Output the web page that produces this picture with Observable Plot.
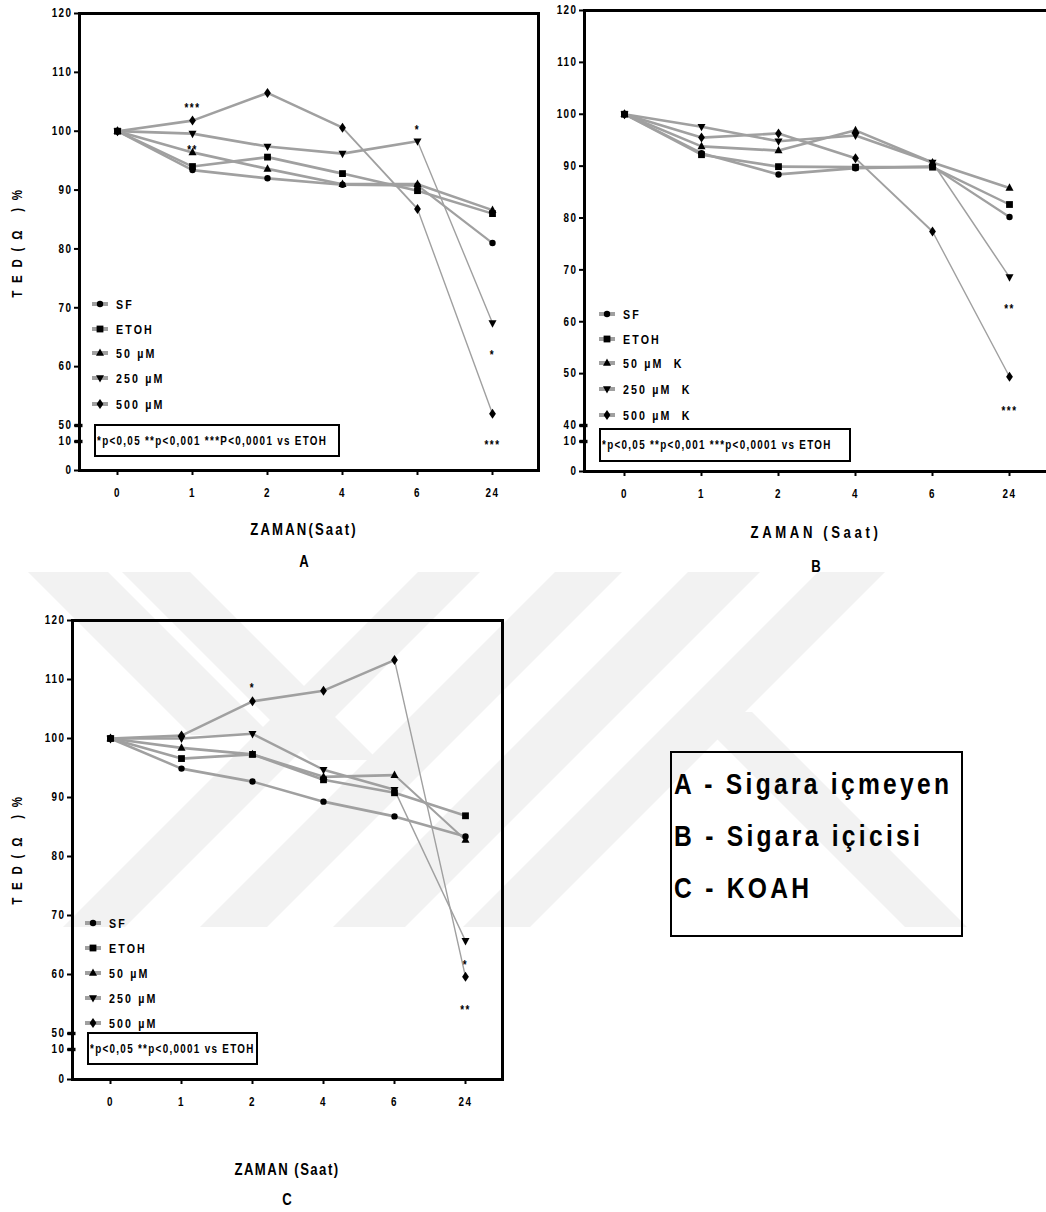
<!DOCTYPE html>
<html><head><meta charset="utf-8">
<script src="https://cdn.jsdelivr.net/npm/d3@7"></script>
<script src="https://cdn.jsdelivr.net/npm/@observablehq/plot@0.6"></script>
<style>
html,body{margin:0;padding:0;background:#fff;overflow:hidden;}
#root{position:relative;width:1046px;height:1212px;overflow:hidden;
  font-family:"Liberation Sans",Arial,sans-serif;font-weight:bold;color:#000;}
.abs{position:absolute;white-space:nowrap;}
.nar{display:inline-block;transform:scaleX(0.82);transform-origin:left center;}
.panel svg{overflow:visible;}
.panel g[aria-label^="y-axis"] line,.panel g[aria-label^="y-axis"] path,
.panel g[aria-label^="x-axis"] line,.panel g[aria-label^="x-axis"] path{stroke-width:2px;}
.statbox{border:2.5px solid #000;box-sizing:border-box;font-size:12px;letter-spacing:1.6px;display:flex;align-items:center;padding-left:1px;}
.legrow{display:flex;align-items:center;font-size:13px;}
.legrow span{letter-spacing:2.6px;}
.title{font-size:16px;transform:translate(-50%,-50%) scaleX(0.82);}
.ytitle{font-size:14px;letter-spacing:9.5px;transform:translate(-50%,-50%) rotate(-90deg) scaleX(0.82);}
#keybox{border:2.5px solid #000;box-sizing:border-box;font-size:30px;letter-spacing:4px;}
#wm{position:absolute;left:0;top:0;}
</style></head><body><div id="root"></div>
<script>
// ---------- data ----------
const times = ["0", "1", "2", "4", "6", "24"];
const namesAC = ["SF", "ETOH", "50 µM", "250 µM", "500 µM"];
const namesB = ["SF", "ETOH", "50 µM  K", "250 µM  K", "500 µM  K"];

const A_SF   = [100, 93.4, 92.0, 90.9, 90.8, 81.0];
const A_ETOH = [100, 94.0, 95.6, 92.8, 89.9, 86.0];
const A_50   = [100, 96.4, 93.6, 91.0, 91.0, 86.6];
const A_250  = [100, 99.6, 97.4, 96.2, 98.3, 67.4];
const A_500  = [100, 101.8, 106.5, 100.6, 86.8, 52.0];

const B_SF   = [100, 92.5, 88.4, 89.6, 89.9, 80.2];
const B_ETOH = [100, 92.2, 89.9, 89.8, 89.8, 82.6];
const B_50   = [100, 93.8, 93.0, 96.9, 90.7, 85.8];
const B_250  = [100, 97.6, 94.8, 95.9, 90.7, 68.6];
const B_500  = [100, 95.5, 96.3, 91.5, 77.4, 49.4];

const C_SF   = [100, 94.9, 92.7, 89.3, 86.8, 83.4];
const C_ETOH = [100, 96.6, 97.3, 93.0, 90.8, 86.9];
const C_50   = [100, 98.4, 97.3, 93.5, 93.8, 82.8];
const C_250  = [100, 100.0, 100.8, 94.7, 91.3, 65.7];
const C_500  = [100, 100.5, 106.3, 108.1, 113.3, 59.6];

// significance marks: time, value, label
const A_notes_x = ["1", "1", "6", "24", "24"];
const A_notes_y = [104.0, 96.8, 100.2, 62.0, 8.6];
const A_notes_t = ["***", "**", "*", "*", "***"];
const B_notes_x = ["24", "24"];
const B_notes_y = [62.4, 42.8];
const B_notes_t = ["**", "***"];
const C_notes_x = ["2", "24", "24"];
const C_notes_y = [108.6, 61.5, 54.0];
const C_notes_t = ["*", "*", "**"];

const yTicksA = [0, 10, 50, 60, 70, 80, 90, 100, 110, 120];
const yTicksB = [0, 10, 40, 50, 60, 70, 80, 90, 100, 110, 120];
const yTicksC = [0, 10, 50, 60, 70, 80, 90, 100, 110, 120];

const statA = "*p<0,05 **p<0,001 ***P<0,0001 vs ETOH";
const statB = "*p<0,05 **p<0,001 ***p<0,0001 vs ETOH";
const statC = "*p<0,05 **p<0,0001 vs ETOH";
const keyLines = ["A - Sigara içmeyen", "B - Sigara içicisi", "C - KOAH"];

// ---------- symbols ----------
const symCircle = {draw(c){c.arc(0,0,3.2,0,2*Math.PI);}};
const symSquare = {draw(c){c.rect(-3.4,-3.4,6.8,6.8);}};
const symTriUp = {draw(c){c.moveTo(0,-4.6);c.lineTo(4,2.8);c.lineTo(-4,2.8);c.closePath();}};
const symTriDown = {draw(c){c.moveTo(0,4.6);c.lineTo(4,-2.8);c.lineTo(-4,-2.8);c.closePath();}};
const symDiamond = {draw(c){c.moveTo(0,-5);c.lineTo(3.4,0);c.lineTo(0,5);c.lineTo(-3.4,0);c.closePath();}};
const syms = [symCircle, symSquare, symTriUp, symTriDown, symDiamond];
const breakSym = {draw(c){c.rect(-4,-1.7,8,3.4);}};

const LINE = "#a0a0a0";
const root = document.getElementById("root");

// faint background watermark (decoration)
(function watermark(){
  const W = d3.create("svg").attr("id", "wm").attr("width", 1046).attr("height", 1212);
  const g = W.append("g").attr("fill", "#f2f2f2");
  const top = 572, bot = 927;
  [[63, 125], [200, 267], [333, 405], [463, 530]].forEach(([a, b]) => {
    const d = bot - top;
    g.append("path").attr("d", `M${a},${bot}L${b},${bot}L${b + d},${top}L${a + d},${top}Z`);
  });
  const back = (a, b, y0, y1) => g.append("path").attr("d", `M${a},${y0}L${b},${y0}L${b + (y1 - y0)},${y1}L${a + (y1 - y0)},${y1}Z`);
  back(28, 108, top, 735);
  back(122, 190, top, 760);
  back(690, 752, 712, bot);
  root.appendChild(W.node());
})();

function el(cls, css, html){
  const d = document.createElement("div");
  d.className = cls;
  Object.assign(d.style, css);
  if (html !== undefined) d.innerHTML = html;
  root.appendChild(d);
  return d;
}

function panel(o){
  const marks = [];
  // pixel helpers only used to thin steep segments like the source rendering
  const px = d3.scalePoint(times, o.xr);
  const py = d3.scaleLinear(o.yd, o.yr);
  o.series.forEach((vals) => {
    const segs = [];
    for (let j = 0; j < vals.length - 1; j++) {
      const dx = px(times[j + 1]) - px(times[j]);
      const dy = py(vals[j + 1]) - py(vals[j]);
      const cos = Math.abs(dx) / Math.hypot(dx, dy);
      segs.push({x1: times[j], x2: times[j + 1], y1: vals[j], y2: vals[j + 1], w: Math.max(1.4, 2.7 * cos)});
    }
    marks.push(Plot.link(segs, {x1: "x1", y1: "y1", x2: "x2", y2: "y2", stroke: LINE, strokeWidth: "w", strokeLinecap: "round"}));
  });
  o.series.forEach((vals, i) => {
    const r = vals.map((v, j) => ({t: times[j], v}));
    marks.push(Plot.dot(r, {x: "t", y: "v", symbol: syms[i], fill: "#000", stroke: "none", r: 3}));
  });
  const notes = o.nx.map((x, i) => ({x, y: o.ny[i], t: o.nt[i]}));
  marks.push(Plot.text(notes, {x: "x", y: "y", text: "t", fontSize: 12, fill: "#000"}));
  marks.push(Plot.frame({stroke: "#000", strokeWidth: 3}));
  marks.push(Plot.dot(o.breaks, {y: d => d, frameAnchor: "left", dx: -1, symbol: breakSym, fill: "#000", stroke: "none"}));
  const chart = Plot.plot({
    width: o.w, height: o.h,
    marginLeft: o.fl, marginRight: o.w - o.fr, marginTop: o.ft, marginBottom: o.h - o.fb,
    x: {type: "point", domain: times, range: o.xr, padding: 0, tickSize: 5, tickPadding: 13, label: null},
    y: {type: "linear", domain: o.yd, range: o.yr, ticks: o.ticks, tickSize: 5, tickPadding: 2, label: null, tickFormat: d => String(d)},
    style: {fontFamily: "Liberation Sans, Arial, sans-serif", fontSize: "12px", fontWeight: "bold", letterSpacing: "1.8px",
            background: "transparent", color: "#000", maxWidth: "none"},
    marks
  });
  const wrap = el("abs panel", {left: o.left + "px", top: o.top + "px", width: o.w + "px", height: o.h + "px"});
  wrap.appendChild(chart);

  // legend
  o.legendY.forEach((y, i) => {
    const r = el("abs legrow", {left: o.legX + "px", top: (y - 8) + "px", height: "16px"});
    const sv = d3.create("svg").attr("width", 22).attr("height", 16).style("margin-right", "2px");
    sv.append("line").attr("x1", 0).attr("x2", 16).attr("y1", 8).attr("y2", 8).attr("stroke", LINE).attr("stroke-width", 4);
    sv.append("path").attr("transform", "translate(8,8)").attr("d", d3.symbol(syms[i])()).attr("fill", "#000");
    r.appendChild(sv.node());
    const sp = document.createElement("span");
    sp.className = "nar";
    sp.textContent = o.names[i];
    sp.style.whiteSpace = "pre";
    r.appendChild(sp);
  });
  // stat box
  el("abs statbox", {left: o.sb[0] + "px", top: o.sb[1] + "px", width: o.sb[2] + "px", height: o.sb[3] + "px"},
     `<span class="nar">${o.stat}</span>`);
}

panel({left: 0, top: 0, w: 545, h: 520, fl: 79, fr: 538, ft: 13, fb: 470,
  xr: [116, 493], yd: [0, 10, 50, 120], yr: [470, 441, 425, 13], ticks: yTicksA, breaks: [50, 10],
  series: [A_SF, A_ETOH, A_50, A_250, A_500], names: namesAC,
  nx: A_notes_x, ny: A_notes_y, nt: A_notes_t,
  legX: 92, legendY: [304, 329, 353, 378, 404], sb: [94, 424, 246, 33], stat: statA});

panel({left: 525, top: 0, w: 560, h: 520, fl: 59, fr: 545, ft: 10, fb: 471,
  xr: [99, 484], yd: [0, 10, 40, 120], yr: [471, 441, 425, 10], ticks: yTicksB, breaks: [40, 10],
  series: [B_SF, B_ETOH, B_50, B_250, B_500], names: namesB,
  nx: B_notes_x, ny: B_notes_y, nt: B_notes_t,
  legX: 599, legendY: [314, 339, 363, 389, 415], sb: [599, 428, 252, 34], stat: statB});

panel({left: 0, top: 600, w: 520, h: 520, fl: 72, fr: 502, ft: 20, fb: 479,
  xr: [108, 466], yd: [0, 10, 50, 120], yr: [479, 449, 433, 20], ticks: yTicksC, breaks: [50, 10],
  series: [C_SF, C_ETOH, C_50, C_250, C_500], names: namesAC,
  nx: C_notes_x, ny: C_notes_y, nt: C_notes_t,
  legX: 85, legendY: [923, 948, 973, 998, 1023], sb: [87, 1032, 171, 33], stat: statC});

// narrow the SVG texts (Arial Narrow look)
document.querySelectorAll(".panel svg text").forEach(t => {
  const len = t.getComputedTextLength();
  if (len > 0) {
    t.setAttribute("textLength", (len * 0.82).toFixed(2));
    t.setAttribute("lengthAdjust", "spacingAndGlyphs");
  }
});

// titles
el("abs title", {left: "304px", top: "530px", letterSpacing: "2.6px"}, "ZAMAN(Saat)");
el("abs title", {left: "304px", top: "562px"}, "A");
el("abs title", {left: "816px", top: "533px", letterSpacing: "4.4px"}, "ZAMAN (Saat)");
el("abs title", {left: "816px", top: "567px"}, "B");
el("abs title", {left: "287px", top: "1170px", letterSpacing: "1.8px"}, "ZAMAN (Saat)");
el("abs title", {left: "287px", top: "1200px"}, "C");
el("abs ytitle", {left: "17px", top: "240px"}, "TED(Ω )%");
el("abs ytitle", {left: "17px", top: "847px"}, "TED(Ω )%");

const kb = el("abs", {left: "670px", top: "751px", width: "293px", height: "186px"});
kb.id = "keybox";
keyLines.forEach((t, i) => {
  const d = document.createElement("div");
  d.className = "abs nar";
  d.style.left = "2px";
  d.style.top = (16 + i * 52) + "px";
  d.style.lineHeight = "30px";
  d.textContent = t;
  kb.appendChild(d);
});
</script></body></html>
